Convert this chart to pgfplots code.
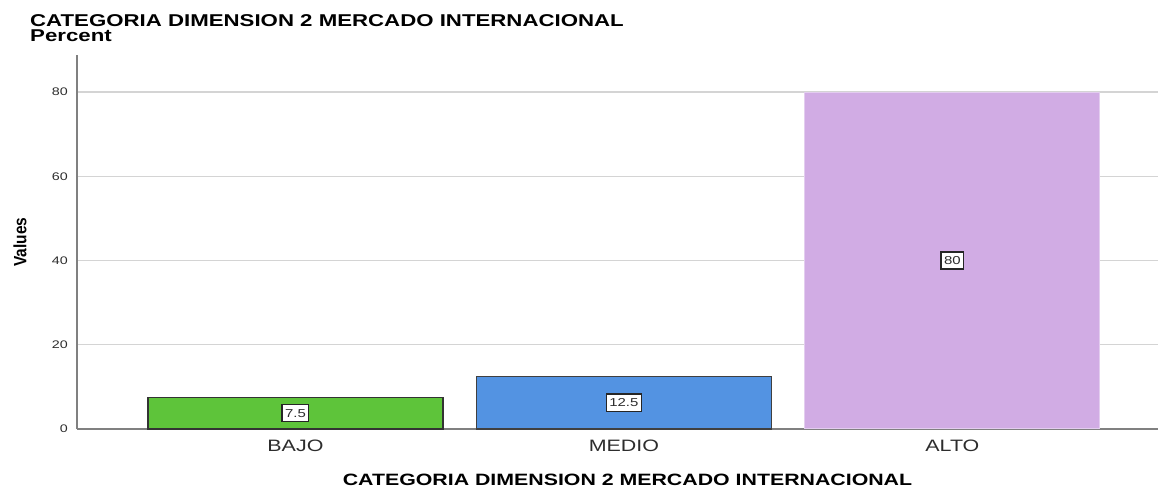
\documentclass[border=0pt]{standalone}
\usepackage{pgfplots}
\pgfplotsset{compat=1.18}
\usepackage{fontspec}
\setmainfont{Liberation Sans}
\definecolor{cgreen}{RGB}{94,196,58}
\definecolor{cblue}{RGB}{83,147,226}
\definecolor{cpurple}{RGB}{209,172,228}
\definecolor{tickgray}{RGB}{45,45,45}
\newcommand\hs[1]{\scalebox{1.3}[1]{#1}}
\begin{document}
\begin{tikzpicture}
\useasboundingbox (-77pt,-58pt) rectangle (1082pt,429pt);
\begin{axis}[
  at={(0pt,0pt)}, anchor=south west,
  scale only axis, width=1081pt, height=374pt,
  xmin=-0.665, xmax=2.626, ymin=0, ymax=88.8,
  axis x line*=bottom, axis y line*=left,
  axis line style={draw=black!50, line width=1.3pt},
  xtick={0,1,2}, xticklabels={\hs{BAJO},\hs{MEDIO},\hs{ALTO}},
  ytick={0,20,40,60,80}, yticklabels={\hs{0},\hs{20},\hs{40},\hs{60},\hs{80}},
  major tick length=0pt,
  ymajorgrids, grid style={draw=black!17, line width=1.2pt},
  tick label style={text=tickgray},
  yticklabel style={font=\fontsize{11}{13}\selectfont, anchor=east, inner sep=0pt, xshift=-9pt},
  xticklabel style={font=\fontsize{16.5}{18}\selectfont, anchor=center, inner sep=0pt, yshift=-17pt},
  ybar, bar width=0.898, bar shift=0pt,
  xlabel={\hs{CATEGORIA DIMENSION 2 MERCADO INTERNACIONAL}},
  xlabel style={font=\bfseries\fontsize{16.4}{18}\selectfont, at={(axis description cs:0.5,0)},
    anchor=center, inner sep=0pt, yshift=-51pt, xshift=10pt},
  ylabel={\scalebox{1}[1.15]{Values}},
  ylabel style={font=\bfseries\fontsize{15.5}{18}\selectfont, at={(axis description cs:0,0.5)},
    anchor=center, inner sep=0pt, yshift=57pt},
  clip=false,
]
\addplot[fill=cgreen, draw=black!80, line width=1.2pt] coordinates {(0,7.5)};
\addplot[fill=cblue, draw=black!75, line width=1.2pt] coordinates {(1,12.5)};
\addplot[fill=cpurple, draw=cpurple!60!white, line width=1pt] coordinates {(2,80)};
\addplot[draw=none, fill=none, nodes near coords={\hs{\pgfplotspointmeta}}, point meta=explicit symbolic,
  every node near coord/.append style={anchor=center, fill=white, draw=black!85,
    line width=1.3pt, inner xsep=3pt, inner ysep=4.5pt, font=\fontsize{11.5}{13}\selectfont, text=tickgray}]
  coordinates {(0,3.75) [7.5] (1,6.25) [12.5] (2,40) [80]};
\end{axis}
\node[anchor=base west, inner sep=0pt, font=\bfseries\fontsize{17.1}{18}\selectfont]
  at (-47pt,402.3pt) {\hs{CATEGORIA DIMENSION 2 MERCADO INTERNACIONAL}};
\node[anchor=base west, inner sep=0pt, font=\bfseries\fontsize{17.1}{18}\selectfont]
  at (-47pt,387.3pt) {\hs{Percent}};
\end{tikzpicture}
\end{document}
